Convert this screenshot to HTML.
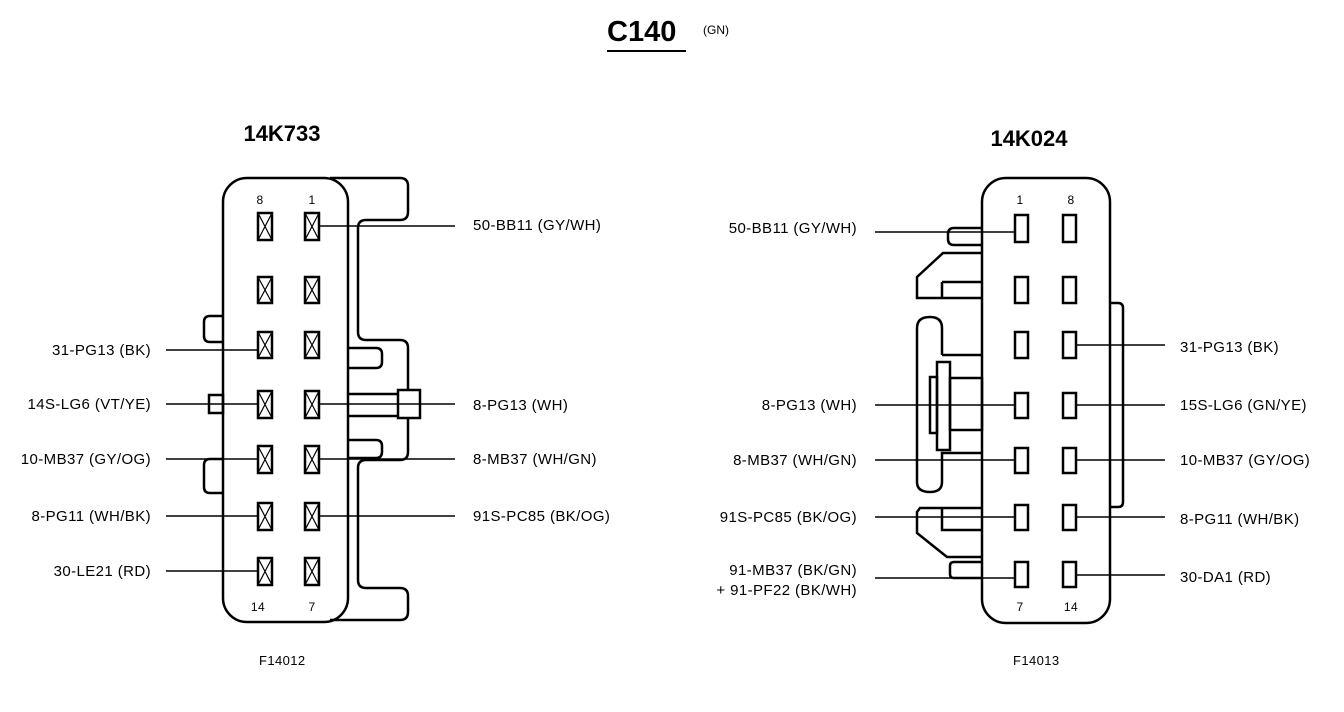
<!DOCTYPE html>
<html><head><style>
body{margin:0;background:#fff}
svg{display:block}
text{font-family:"Liberation Sans",Arial,sans-serif;font-size:15px;letter-spacing:0.4px;fill:#000}
</style></head><body>
<svg width="1344" height="712" viewBox="0 0 1344 712" xmlns="http://www.w3.org/2000/svg">
<g fill="none" stroke="#000" stroke-width="2.5">
<rect x="223" y="178" width="125" height="444" rx="24"/>
<path d="M330,178 H400 Q408,178 408,186 V212 Q408,220 400,220 H366 Q358,220 358,228 V332 Q358,340 366,340 H400 Q408,340 408,348 V390 M408,418 V452 Q408,460 400,460 H366 Q358,460 358,468 V580 Q358,588 366,588 H400 Q408,588 408,596 V612 Q408,620 400,620 H330"/>
<path d="M348,348 H376 Q382,348 382,354 V362 Q382,368 376,368 H348"/>
<path d="M348,440 H376 Q382,440 382,446 V452 Q382,458 376,458 H348"/>
<rect x="398" y="390" width="22" height="28"/>
<path d="M348,394 H398 M348,416 H398"/>
<path d="M223,316 H210 Q204,316 204,322 V336 Q204,342 210,342 H223"/>
<path d="M223,459 H210 Q204,459 204,465 V487 Q204,493 210,493 H223"/>
<rect x="209" y="395" width="14" height="18"/>
<rect x="982" y="178" width="128" height="445" rx="24"/>
<path d="M982,228 H954 Q948,228 948,234 V239 Q948,245 954,245 H982"/>
<path d="M982,253 H943 L917,277 V298 H982 M942,282 H982 M942,282 V298"/>
<path d="M942,355 H982 M942,355 V328 Q942,317 930,317 Q917,317 917,328 V482 Q917,492 930,492 Q942,492 942,482 V453 H982"/>
<rect x="950" y="378" width="32" height="52"/>
<rect x="937" y="362" width="13" height="88"/>
<rect x="930" y="377" width="7" height="56"/>
<path d="M982,508 H920 L917,512 V533 L947,557 H982 M942,508 V530 H982"/>
<path d="M982,562 H954 Q950,562 950,566 V574 Q950,578 954,578 H982"/>
<path d="M1110,303 H1118 Q1123,303 1123,308 V502 Q1123,507 1118,507 H1110"/>
</g>
<g stroke="#000" stroke-width="1.5" fill="none">
<path d="M166,350 H257 M166,404 H257 M166,459 H257 M166,516 H257 M166,571 H257"/>
<path d="M320,226 H455 M320,404 H455 M320,459 H455 M320,516 H455"/>
<path d="M875,232 H1015 M875,405 H1015 M875,460 H1015 M875,517 H1015 M875,578 H1015"/>
<path d="M1077,345 H1165 M1077,405 H1165 M1077,460 H1165 M1077,517 H1165 M1077,575 H1165"/>
</g>
<g stroke="#000" fill="none">
<g stroke-width="2.5">
<rect x="258" y="213" width="14" height="27"/><rect x="305" y="213" width="14" height="27"/>
<rect x="258" y="277" width="14" height="26"/><rect x="305" y="277" width="14" height="26"/>
<rect x="258" y="332" width="14" height="26"/><rect x="305" y="332" width="14" height="26"/>
<rect x="258" y="391" width="14" height="27"/><rect x="305" y="391" width="14" height="27"/>
<rect x="258" y="446" width="14" height="27"/><rect x="305" y="446" width="14" height="27"/>
<rect x="258" y="503" width="14" height="27"/><rect x="305" y="503" width="14" height="27"/>
<rect x="258" y="558" width="14" height="27"/><rect x="305" y="558" width="14" height="27"/>
</g>
<path stroke-width="1.2" d="M258,213 L272,240 M272,213 L258,240 M305,213 L319,240 M319,213 L305,240
M258,277 L272,303 M272,277 L258,303 M305,277 L319,303 M319,277 L305,303
M258,332 L272,358 M272,332 L258,358 M305,332 L319,358 M319,332 L305,358
M258,391 L272,418 M272,391 L258,418 M305,391 L319,418 M319,391 L305,418
M258,446 L272,473 M272,446 L258,473 M305,446 L319,473 M319,446 L305,473
M258,503 L272,530 M272,503 L258,530 M305,503 L319,530 M319,503 L305,530
M258,558 L272,585 M272,558 L258,585 M305,558 L319,585 M319,558 L305,585"/>
</g>
<g stroke="#000" stroke-width="2.5" fill="#fff">
<rect x="1015" y="215" width="13" height="27"/><rect x="1063" y="215" width="13" height="27"/>
<rect x="1015" y="277" width="13" height="26"/><rect x="1063" y="277" width="13" height="26"/>
<rect x="1015" y="332" width="13" height="26"/><rect x="1063" y="332" width="13" height="26"/>
<rect x="1015" y="393" width="13" height="25"/><rect x="1063" y="393" width="13" height="25"/>
<rect x="1015" y="448" width="13" height="25"/><rect x="1063" y="448" width="13" height="25"/>
<rect x="1015" y="505" width="13" height="25"/><rect x="1063" y="505" width="13" height="25"/>
<rect x="1015" y="562" width="13" height="25"/><rect x="1063" y="562" width="13" height="25"/>
</g>
<text x="607" y="41" style="font-size:29px;font-weight:bold;letter-spacing:0">C140</text>
<line x1="607" y1="51" x2="686" y2="51" stroke="#000" stroke-width="2"/>
<text x="703" y="34" style="font-size:12px;letter-spacing:0">(GN)</text>
<text x="282" y="141" text-anchor="middle" style="font-size:22px;font-weight:bold;letter-spacing:0">14K733</text>
<text x="1029" y="146" text-anchor="middle" style="font-size:22px;font-weight:bold;letter-spacing:0">14K024</text>
<g style="font-size:12px">
<text x="260" y="204" text-anchor="middle" style="font-size:12px">8</text>
<text x="312" y="204" text-anchor="middle" style="font-size:12px">1</text>
<text x="258" y="611" text-anchor="middle" style="font-size:12px">14</text>
<text x="312" y="611" text-anchor="middle" style="font-size:12px">7</text>
<text x="1020" y="204" text-anchor="middle" style="font-size:12px">1</text>
<text x="1071" y="204" text-anchor="middle" style="font-size:12px">8</text>
<text x="1020" y="611" text-anchor="middle" style="font-size:12px">7</text>
<text x="1071" y="611" text-anchor="middle" style="font-size:12px">14</text>
</g>
<g text-anchor="end">
<text x="151" y="355">31-PG13 (BK)</text>
<text x="151" y="409">14S-LG6 (VT/YE)</text>
<text x="151" y="464">10-MB37 (GY/OG)</text>
<text x="151" y="521">8-PG11 (WH/BK)</text>
<text x="151" y="576">30-LE21 (RD)</text>
<text x="857" y="233">50-BB11 (GY/WH)</text>
<text x="857" y="410">8-PG13 (WH)</text>
<text x="857" y="465">8-MB37 (WH/GN)</text>
<text x="857" y="522">91S-PC85 (BK/OG)</text>
<text x="857" y="575">91-MB37 (BK/GN)</text>
<text x="857" y="595">+ 91-PF22 (BK/WH)</text>
</g>
<text x="473" y="230">50-BB11 (GY/WH)</text>
<text x="473" y="410">8-PG13 (WH)</text>
<text x="473" y="464">8-MB37 (WH/GN)</text>
<text x="473" y="521">91S-PC85 (BK/OG)</text>
<text x="1180" y="352">31-PG13 (BK)</text>
<text x="1180" y="410">15S-LG6 (GN/YE)</text>
<text x="1180" y="465">10-MB37 (GY/OG)</text>
<text x="1180" y="524">8-PG11 (WH/BK)</text>
<text x="1180" y="582">30-DA1 (RD)</text>
<text x="259" y="665" style="font-size:13px">F14012</text>
<text x="1013" y="665" style="font-size:13px">F14013</text>
</svg>
</body></html>
